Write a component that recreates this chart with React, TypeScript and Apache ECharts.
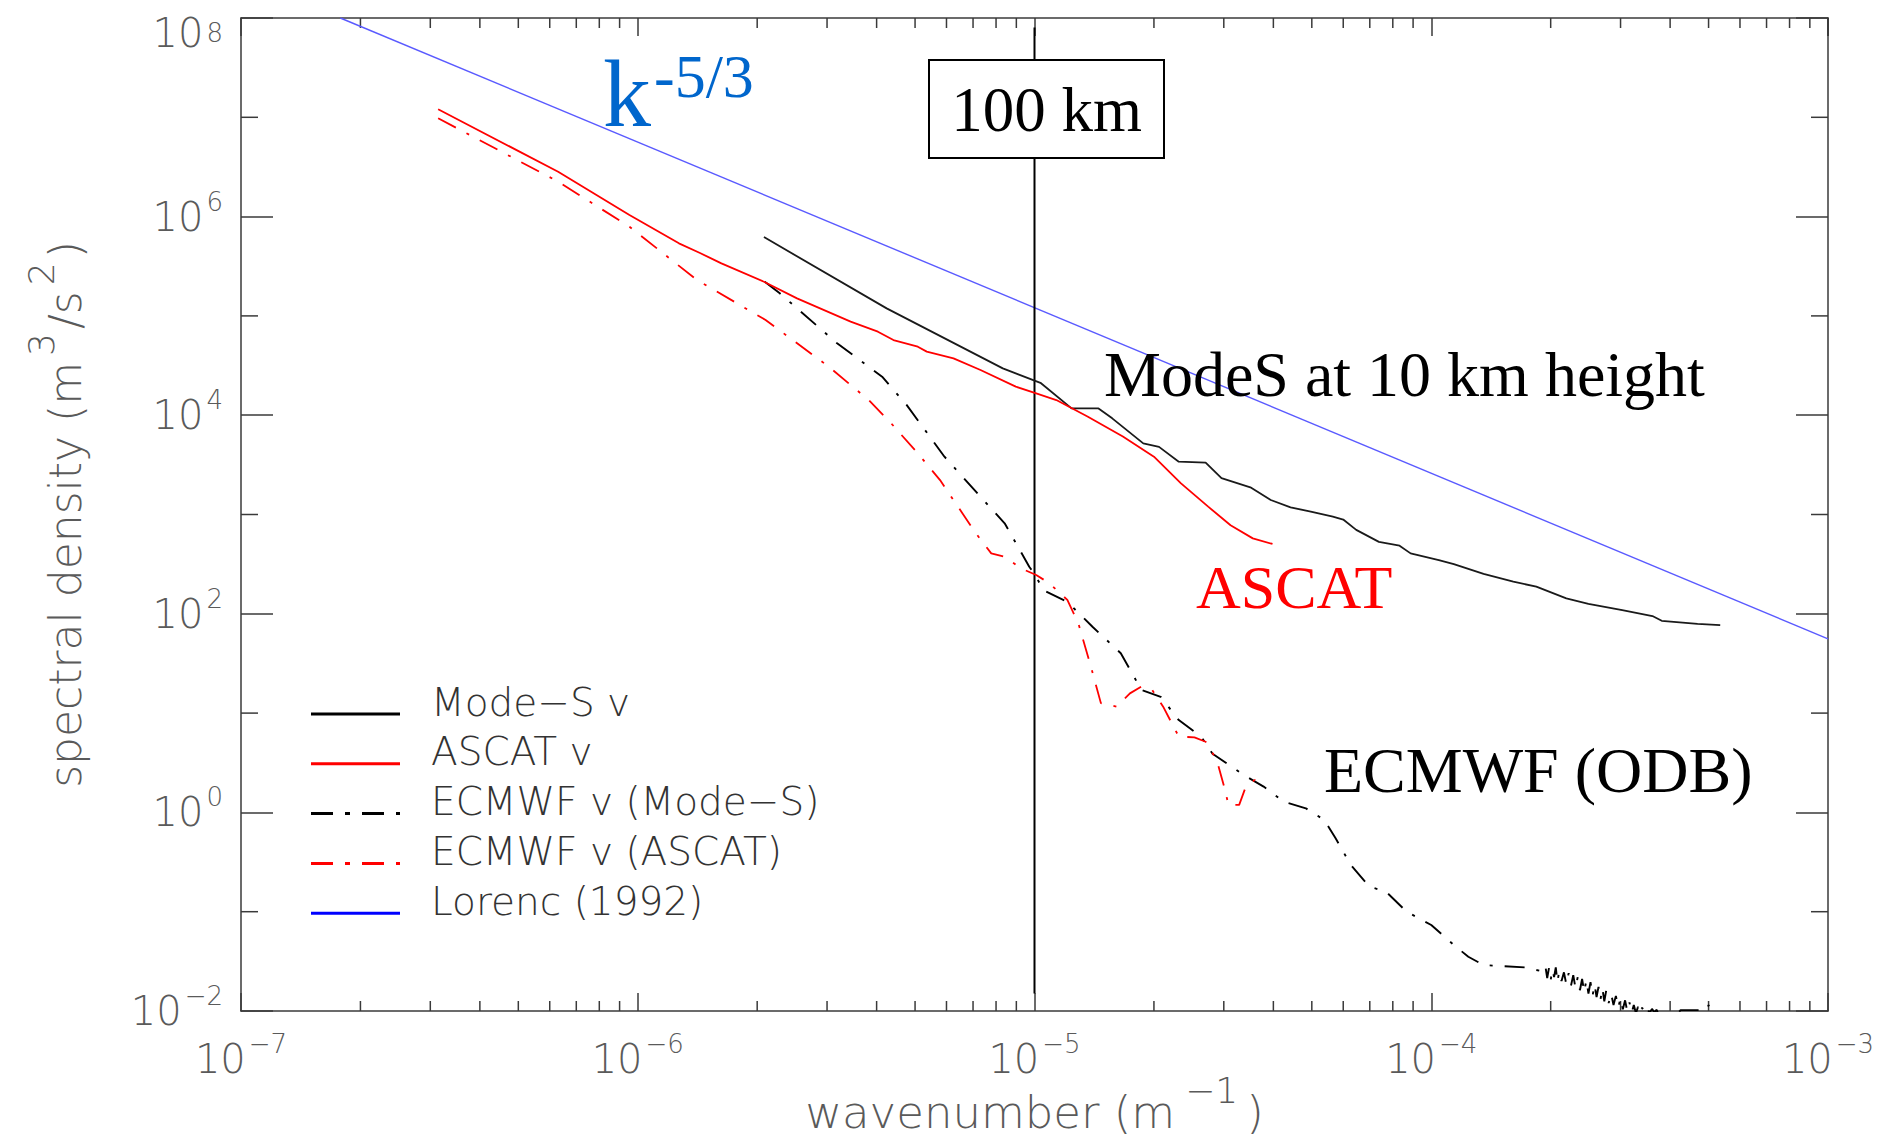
import React, { useEffect, useRef } from 'react';
import * as echarts from 'echarts';

const X_MIN = 1e-7;
const X_MAX = 1e-3;
const Y_MIN = 1e-2;
const Y_MAX = 1e8;

// [wavenumber (1/m), spectral density (m^3/s^2)]
const modeS: number[][] = [
  [2.08e-6, 6.22e5], [4.24e-6, 1.19e5], [8.32e-6, 2.96e4], [1.035e-5, 2.12e4], [1.24e-5, 1.17e4],
  [1.45e-5, 1.17e4], [1.57e-5, 9.3e3], [1.88e-5, 5.2e3], [2.06e-5, 4.8e3], [2.31e-5, 3.4e3],
  [2.7e-5, 3.33e3], [2.96e-5, 2.32e3], [3.5e-5, 1.88e3], [3.94e-5, 1.4e3], [4.42e-5, 1.18e3],
  [4.97e-5, 1.07e3], [5.65e-5, 9.5e2], [6.0e-5, 8.9e2], [6.47e-5, 7.0e2], [7.38e-5, 5.3e2],
  [8.32e-5, 4.85e2], [8.87e-5, 4.06e2], [1.045e-4, 3.48e2], [1.14e-4, 3.17e2], [1.355e-4, 2.52e2],
  [1.61e-4, 2.11e2], [1.84e-4, 1.875e2], [2.19e-4, 1.43e2], [2.49e-4, 1.26e2], [3.03e-4, 1.09e2],
  [3.61e-4, 9.5e1], [3.81e-4, 8.5e1], [4.69e-4, 7.9e1], [5.35e-4, 7.7e1],
];

const ascat: number[][] = [
  [3.14e-7, 1.205e7], [6.3e-7, 2.83e6], [9.53e-7, 1.04e6], [1.27e-6, 5.38e5], [1.435e-6, 4.3e5],
  [1.625e-6, 3.38e5], [2.08e-6, 2.21e5], [2.52e-6, 1.5e5], [3.44e-6, 8.75e4], [4.03e-6, 6.93e4],
  [4.41e-6, 5.71e4], [5.08e-6, 4.9e4], [5.35e-6, 4.37e4], [6.25e-6, 3.74e4], [7.31e-6, 2.85e4],
  [8.97e-6, 1.94e4], [1.01e-5, 1.66e4], [1.135e-5, 1.42e4], [1.36e-5, 9.7e3], [1.67e-5, 6.1e3],
  [2.0e-5, 3.82e3], [2.34e-5, 2.06e3], [2.74e-5, 1.2e3], [3.12e-5, 7.8e2], [3.55e-5, 5.75e2],
  [3.98e-5, 5.05e2],
];

const ecmwfModeS: number[][] = [
  [2.09e-6, 2.21e5], [2.28e-6, 1.69e5], [3.18e-6, 5.3e4], [4.13e-6, 2.44e4], [4.76e-6, 1.27e4],
  [5.93e-6, 3.82e3], [7.31e-6, 1.51e3], [8.41e-6, 8.15e2], [9.7e-6, 2.98e2], [1.01e-5, 2.37e2],
  [1.05e-5, 1.74e2], [1.21e-5, 1.32e2], [1.4e-5, 7.4e1], [1.65e-5, 4.0e1], [1.86e-5, 1.71e1],
  [2.08e-5, 1.46e1], [2.31e-5, 8.5], [2.63e-5, 5.8], [2.81e-5, 3.9], [3.37e-5, 2.38],
  [3.78e-5, 1.82], [4.25e-5, 1.28], [4.83e-5, 1.1], [5.37e-5, 0.84], [5.74e-5, 0.55],
  [6.27e-5, 0.295], [6.98e-5, 0.179], [7.69e-5, 0.159], [8.67e-5, 0.1], [1.0e-4, 0.0735],
  [1.14e-4, 0.0462], [1.24e-4, 0.0352], [1.355e-4, 0.029], [1.72e-4, 0.0275], [1.92e-4, 0.0249],
  [1.94e-4, 0.028], [1.96e-4, 0.0215], [1.98e-4, 0.027], [2.0e-4, 0.0205], [2.02e-4, 0.0262],
  [2.04e-4, 0.022], [2.06e-4, 0.0275], [2.08e-4, 0.0195], [2.1e-4, 0.025], [2.13e-4, 0.02],
  [2.16e-4, 0.0245], [2.19e-4, 0.0185], [2.22e-4, 0.024], [2.25e-4, 0.018], [2.28e-4, 0.023],
  [2.31e-4, 0.017], [2.34e-4, 0.022], [2.37e-4, 0.0162], [2.4e-4, 0.021], [2.43e-4, 0.0155],
  [2.46e-4, 0.0205], [2.49e-4, 0.015], [2.52e-4, 0.0195], [2.55e-4, 0.0142], [2.58e-4, 0.0185],
  [2.61e-4, 0.0138], [2.64e-4, 0.0175], [2.67e-4, 0.013], [2.7e-4, 0.017], [2.73e-4, 0.0125],
  [2.76e-4, 0.016], [2.8e-4, 0.012], [2.84e-4, 0.015], [2.88e-4, 0.0115], [2.92e-4, 0.0142],
  [2.96e-4, 0.0108], [3.0e-4, 0.0135], [3.04e-4, 0.0104], [3.08e-4, 0.0128], [3.12e-4, 0.0099],
  [3.16e-4, 0.0122], [3.2e-4, 0.0096], [3.24e-4, 0.0115], [3.28e-4, 0.0095], [3.32e-4, 0.011],
  [3.36e-4, 0.0094], [3.4e-4, 0.0108], [3.45e-4, 0.0095], [3.5e-4, 0.0106], [3.55e-4, 0.0096],
  [3.6e-4, 0.0105], [3.65e-4, 0.0097], [3.7e-4, 0.0103], [3.75e-4, 0.0089], [4.0e-4, 0.0079],
  [4.25e-4, 0.0102], [4.6e-4, 0.0102], [4.95e-4, 0.0102], [5.0e-4, 0.0115], [5.03e-4, 0.0105],
  [5.28e-4, 0.01035],
];

const ecmwfAscat: number[][] = [
  [3.14e-7, 9.77e6], [6.3e-7, 2.25e6], [9.53e-7, 7.9e5], [1.41e-6, 2.3e5], [2.1e-6, 9.1e4],
  [3.03e-6, 3.08e4], [3.82e-6, 1.42e4], [4.35e-6, 8.3e3], [5.08e-6, 4.13e3], [5.78e-6, 2.22e3],
  [6.58e-6, 1.03e3], [7.11e-6, 6.5e2], [7.78e-6, 4.06e2], [8.41e-6, 3.76e2], [9.23e-6, 2.87e2],
  [1.01e-5, 2.46e2], [1.09e-5, 2.03e2], [1.21e-5, 1.38e2], [1.29e-5, 8.0e1], [1.38e-5, 3.17e1],
  [1.47e-5, 1.26e1], [1.61e-5, 1.16e1], [1.74e-5, 1.58e1], [1.86e-5, 1.85e1], [1.98e-5, 1.71e1],
  [2.11e-5, 1.16e1], [2.31e-5, 5.8], [2.53e-5, 5.7], [2.7e-5, 5.15], [2.88e-5, 3.37],
  [3.03e-5, 1.62], [3.08e-5, 1.19], [3.28e-5, 1.19], [3.41e-5, 1.82], [3.59e-5, 2.12],
  [3.78e-5, 1.89],
];

const lorenc: number[][] = [[1.78e-7, 1e8], [1e-3, 56]];
const line100km: number[][] = [[1e-5, 8e7], [1e-5, 1.5e-2]];

const xMinorTicks: number[] = [
  2e-7, 3e-7, 4e-7, 5e-7, 6e-7, 7e-7, 8e-7, 9e-7,
  2e-6, 3e-6, 4e-6, 5e-6, 6e-6, 7e-6, 8e-6, 9e-6,
  2e-5, 3e-5, 4e-5, 5e-5, 6e-5, 7e-5, 8e-5, 9e-5,
  2e-4, 3e-4, 4e-4, 5e-4, 6e-4, 7e-4, 8e-4, 9e-4,
];
const yMinorTicks: number[] = [1e-1, 1e1, 1e3, 1e5, 1e7];

const NAMES = ['Mode−S v', 'ASCAT v', 'ECMWF v (Mode−S)', 'ECMWF v (ASCAT)', 'Lorenc (1992)'];

const AXIS_COLOR = '#3a3a3a';
const LABEL_COLOR = '#5a5a5a';
const SANS = "'DejaVu Sans', sans-serif";
const SERIF = "'Liberation Serif', 'Times New Roman', serif";
const DASHDOT = [20, 12, 3, 12];
const LEGEND_DASHDOT = [22, 12, 5, 12];
const LEGEND_COLORS = ['#000000', '#ff0000', '#000000', '#ff0000', '#0000ff'];
const LEGEND_DASHES: (number[] | null)[] = [null, null, LEGEND_DASHDOT, LEGEND_DASHDOT, null];

function supLabel(v: number): string {
  const e = Math.round(Math.log10(v));
  const sup = (e < 0 ? '−' : '') + Math.abs(e);
  return `{b|10}{s|${sup}}`;
}

const labelRich = {
  b: { fontSize: 40, lineHeight: 56, color: LABEL_COLOR, fontFamily: SANS, fontWeight: 200 },
  s: { fontSize: 26, lineHeight: 25, verticalAlign: 'top', padding: [0, 0, 0, 3], color: LABEL_COLOR, fontFamily: SANS, fontWeight: 200 },
  bt: { fontSize: 40, lineHeight: 56, padding: [30, 0, 0, 0], color: LABEL_COLOR, fontFamily: SANS, fontWeight: 200 },
  st: { fontSize: 26, lineHeight: 25, verticalAlign: 'top', padding: [30, 0, 0, 3], color: LABEL_COLOR, fontFamily: SANS, fontWeight: 200 },
};

function buildLegend(): any[] {
  const els: any[] = [];
  NAMES.forEach((name, i) => {
    const y = 714 + 49.8 * i;
    const dash = LEGEND_DASHES[i];
    els.push({
      type: 'line', z: 100,
      shape: { x1: 311, y1: y, x2: 400, y2: y },
      style: dash
        ? { stroke: LEGEND_COLORS[i], lineWidth: 3, lineDash: dash }
        : { stroke: LEGEND_COLORS[i], lineWidth: 3 },
    });
    els.push({
      type: 'text', z: 100, x: 431, y: y - 12,
      style: { text: name, fontSize: 39, fontFamily: SANS, fontWeight: 200, fill: '#333333', align: 'left', verticalAlign: 'middle' },
    });
  });
  return els;
}

export default function App() {
  const ref = useRef<HTMLDivElement>(null);
  useEffect(() => {
    if (!ref.current) return;
    const chart = echarts.init(ref.current, null, { renderer: 'svg' });
    const tickLine = { stroke: AXIS_COLOR, lineWidth: 1.5 };
    const option: any = {
      animation: false,
      backgroundColor: '#ffffff',
      textStyle: { fontFamily: SANS },
      grid: { left: 241, top: 18, right: 60, bottom: 128, containLabel: false, outerBoundsMode: 'none' },
      xAxis: [
        {
          type: 'log', min: X_MIN, max: X_MAX, position: 'bottom',
          name: '{t|wavenumber (m}{s|−1}{t|)}', nameLocation: 'middle', nameGap: 61,
          nameMoveOverlap: false,
          nameTextStyle: {
            rich: {
              t: { fontSize: 45, lineHeight: 80, color: LABEL_COLOR, fontFamily: SANS, fontWeight: 200 },
              s: { fontSize: 36, lineHeight: 24, verticalAlign: 'top', padding: [0, 8, 0, 10], color: LABEL_COLOR, fontFamily: SANS, fontWeight: 200 },
            },
          },
          axisLine: { show: true, lineStyle: { color: AXIS_COLOR, width: 1.5 } },
          axisTick: { show: true, inside: true, length: 18, lineStyle: { color: AXIS_COLOR, width: 1.5 } },
          axisLabel: { margin: 20, formatter: supLabel, rich: labelRich },
          splitLine: { show: false },
        },
        {
          type: 'log', min: X_MIN, max: X_MAX, position: 'top',
          axisLine: { show: true, lineStyle: { color: AXIS_COLOR, width: 1.5 } },
          axisTick: { show: true, inside: true, length: 18, lineStyle: { color: AXIS_COLOR, width: 1.5 } },
          axisLabel: { show: false },
          splitLine: { show: false },
        },
      ],
      yAxis: [
        {
          type: 'log', min: Y_MIN, max: Y_MAX, interval: 2, position: 'left',
          name: '{t|spectral density (m}{s|3}{t|/s}{s|2}{t|)}', nameLocation: 'middle', nameGap: 134,
          nameMoveOverlap: false,
          nameTextStyle: {
            rich: {
              t: { fontSize: 44, lineHeight: 84, color: LABEL_COLOR, fontFamily: SANS, fontWeight: 200 },
              s: { fontSize: 36, lineHeight: 24, verticalAlign: 'top', padding: [0, 4, 0, 6], color: LABEL_COLOR, fontFamily: SANS, fontWeight: 200 },
            },
          },
          axisLine: { show: true, lineStyle: { color: AXIS_COLOR, width: 1.5 } },
          axisTick: { show: true, inside: true, length: 32, lineStyle: { color: AXIS_COLOR, width: 1.5 } },
          axisLabel: {
            margin: 18,
            formatter: (v: number) => {
              const e = Math.round(Math.log10(v));
              if (e === 8) return `{bt|10}{st|8}`;
              return supLabel(v);
            },
            rich: labelRich,
          },
          splitLine: { show: false },
        },
        {
          type: 'log', min: Y_MIN, max: Y_MAX, interval: 2, position: 'right',
          axisLine: { show: true, lineStyle: { color: AXIS_COLOR, width: 1.5 } },
          axisTick: { show: true, inside: true, length: 32, lineStyle: { color: AXIS_COLOR, width: 1.5 } },
          axisLabel: { show: false },
          splitLine: { show: false },
        },
      ],
      series: [
        {
          type: 'custom', name: 'xminor', silent: true, coordinateSystem: 'cartesian2d',
          data: xMinorTicks.map((v) => [v, 1]),
          renderItem: (_p: any, api: any) => {
            const v = api.value(0);
            const b = api.coord([v, Y_MIN]);
            const t = api.coord([v, Y_MAX]);
            return {
              type: 'group',
              children: [
                { type: 'line', shape: { x1: b[0], y1: b[1], x2: b[0], y2: b[1] - 10 }, style: tickLine },
                { type: 'line', shape: { x1: t[0], y1: t[1], x2: t[0], y2: t[1] + 10 }, style: tickLine },
              ],
            };
          },
        },
        {
          type: 'custom', name: 'yminor', silent: true, coordinateSystem: 'cartesian2d',
          data: yMinorTicks.map((v) => [1e-5, v]),
          renderItem: (_p: any, api: any) => {
            const v = api.value(1);
            const l = api.coord([X_MIN, v]);
            const r = api.coord([X_MAX, v]);
            return {
              type: 'group',
              children: [
                { type: 'line', shape: { x1: l[0], y1: l[1], x2: l[0] + 17, y2: l[1] }, style: tickLine },
                { type: 'line', shape: { x1: r[0], y1: r[1], x2: r[0] - 17, y2: r[1] }, style: tickLine },
              ],
            };
          },
        },
        {
          type: 'line', name: NAMES[4], data: lorenc, symbol: 'none', color: '#0000ff',
          lineStyle: { color: '#5a5aff', width: 1.4 }, z: 2,
        },
        {
          type: 'line', name: '100 km', data: line100km, symbol: 'none',
          lineStyle: { color: '#000000', width: 2 }, z: 2,
        },
        {
          type: 'line', name: NAMES[2], data: ecmwfModeS, symbol: 'none', color: '#000000',
          lineStyle: { color: '#000000', width: 1.9, type: DASHDOT }, z: 3,
        },
        {
          type: 'line', name: NAMES[3], data: ecmwfAscat, symbol: 'none', color: '#ff0000',
          lineStyle: { color: '#ff0000', width: 1.8, type: DASHDOT }, z: 3,
        },
        {
          type: 'line', name: NAMES[0], data: modeS, symbol: 'none', color: '#000000',
          lineStyle: { color: '#1a1a1a', width: 1.8 }, z: 4,
        },
        {
          type: 'line', name: NAMES[1], data: ascat, symbol: 'none', color: '#ff0000',
          lineStyle: { color: '#ff0000', width: 1.8 }, z: 4,
        },
      ],
      graphic: [
        ...buildLegend(),
        {
          type: 'rect', z: 100,
          shape: { x: 929, y: 60, width: 235, height: 98 },
          style: { fill: '#ffffff', stroke: '#000000', lineWidth: 2 },
        },
        {
          type: 'text', z: 101, x: 1046.5, y: 110,
          style: { text: '100 km', fontSize: 63, fontFamily: SERIF, fill: '#000000', align: 'center', verticalAlign: 'middle' },
        },
        {
          type: 'text', z: 101, x: 603, y: 93,
          style: { text: 'k', fontSize: 96, fontFamily: SERIF, fill: '#0066cc', align: 'left', verticalAlign: 'middle' },
        },
        {
          type: 'text', z: 101, x: 654, y: 76,
          style: { text: '-5/3', fontSize: 62, fontFamily: SERIF, fill: '#0066cc', align: 'left', verticalAlign: 'middle' },
        },
        {
          type: 'text', z: 101, x: 1104, y: 374,
          style: { text: 'ModeS at 10 km height', fontSize: 64, fontFamily: SERIF, fill: '#000000', align: 'left', verticalAlign: 'middle' },
        },
        {
          type: 'text', z: 101, x: 1196, y: 587,
          style: { text: 'ASCAT', fontSize: 62, fontFamily: SERIF, fill: '#ff0000', align: 'left', verticalAlign: 'middle' },
        },
        {
          type: 'text', z: 101, x: 1324, y: 770,
          style: { text: 'ECMWF (ODB)', fontSize: 64, fontFamily: SERIF, fill: '#000000', align: 'left', verticalAlign: 'middle' },
        },
      ],
    };
    chart.setOption(option);
    return () => chart.dispose();
  }, []);
  return (
    <div
      ref={ref}
      style={{ position: 'fixed', left: 0, top: 0, width: 1888, height: 1139, background: '#ffffff' }}
    />
  );
}
